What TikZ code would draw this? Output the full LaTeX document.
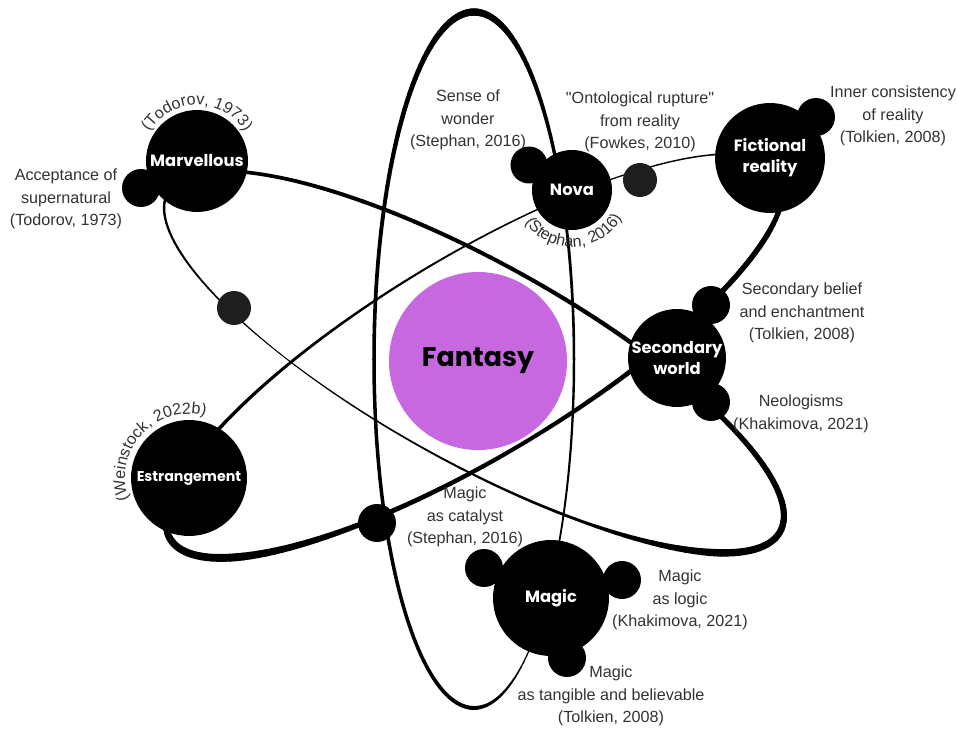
\documentclass[tikz,border=0pt]{standalone}
\usepackage{fontspec}
\setmainfont{Liberation Sans}
\newfontfamily\lbl{Poppins}
\usetikzlibrary{decorations.text}
\definecolor{ink}{HTML}{333333}
\definecolor{fantasy}{HTML}{C868E0}
\definecolor{dim}{HTML}{1E1E1E}

% straight double quote, set as a glyph so the TeX mapping leaves it alone
\newcommand\dq{\XeTeXglyph\XeTeXcharglyph"22\relax}

% Tapered elliptical orbit: centre (#1,#2), semi-axes #3,#4, rotation #5,
% stroke widths (px) at every 30 degrees of the parameter given in #6.
\newcommand\orbitpath[6]{%
  \foreach \t in {0,2,...,358}{%
    \pgfmathtruncatemacro\k{\t/30}%
    \pgfmathtruncatemacro\kk{\k+1}%
    \pgfmathsetmacro\wa{{#6}[\k]}%
    \pgfmathsetmacro\wb{{#6}[\kk]}%
    \pgfmathsetmacro\w{(\wa+(\wb-\wa)*(\t+1-30*\k)/30)*0.569}%
    \pgfmathsetmacro\xa{#1+#3*cos(\t)*cos(#5)-#4*sin(\t)*sin(#5)}%
    \pgfmathsetmacro\ya{#2+#3*cos(\t)*sin(#5)+#4*sin(\t)*cos(#5)}%
    \pgfmathsetmacro\xb{#1+#3*cos(\t+2)*cos(#5)-#4*sin(\t+2)*sin(#5)}%
    \pgfmathsetmacro\yb{#2+#3*cos(\t+2)*sin(#5)+#4*sin(\t+2)*cos(#5)}%
    \draw[line width=\w pt, line cap=round] (\xa,\ya) -- (\xb,\yb);
  }%
}

\begin{document}
\begin{tikzpicture}[x=0.02cm, y=-0.02cm,
  planet/.style={circle, fill=black, inner sep=0pt, minimum size=#1*0.04cm,
    text=white, align=center, font=\fontsize{9.3}{12}\selectfont\lbl\bfseries},
  moon/.style={circle, fill=black, inner sep=0pt, minimum size=#1*0.04cm},
  note/.style={text=ink, align=center, inner sep=0pt,
    font=\fontsize{9.2}{12.8}\selectfont},
  arclabel/.style={decorate, decoration={text along path, text align=center,
    text color=ink, text={|\fontsize{9.2}{11}\selectfont|#1}}},
]
\useasboundingbox (0,0) rectangle (958,729);
\fill[white] (0,0) rectangle (958,729);

% orbits
\orbitpath{474}{360}{100}{348}{0}{2.5,1.8,1.2,4,3.5,3.5,3.5,4,5,7.5,4.5,3,2.5}
\orbitpath{474}{362}{350}{100}{29}{6.5,7.5,3,1.8,1.0,2,2.5,3.5,4,4,4.5,5.5,6.5}
\orbitpath{474.4}{356}{355}{100}{-31}{4,5.5,5,4,5,8,7,4,3,2,1.2,1.5,4}

% small satellites
\node[moon=19] (accept) at (141,188) {};
\node[moon=18.5] (wonder) at (529,165) {};
\node[moon=19] (inner) at (816,117) {};
\node[moon=19] (belief) at (711,305) {};
\node[moon=19] (neolog) at (711,402) {};
\node[moon=19] (mcatal) at (484,568) {};
\node[moon=19] (mlogic) at (622,580) {};
\node[moon=19] (mtang) at (567,658) {};
\node[moon=19] (cross) at (377,523) {};
\node[moon=17, fill=dim] (rupture) at (640,180) {};
\node[moon=17, fill=dim] (marvdot) at (234,308) {};

% main bodies
\node[planet=51] (marv) at (197,161) {Marvellous};
\node[planet=40] (nova) at (572,190) {Nova};
\node[planet=55] (fict) at (770,158) {Fictional\\reality};
\node[planet=49] (sec) at (677,358) {Secondary\\world};
\node[planet=58, font=\fontsize{8.1}{12}\selectfont\lbl\bfseries] (estr) at (189,478) {Estrangement};
\node[planet=58] (magic) at (551,598) {Magic};
\node[circle, fill=fantasy, inner sep=0pt, minimum size=178*0.02cm,
  font=\fontsize{15.3}{16}\selectfont\lbl\bfseries] (fantasy) at (478,361) {Fantasy};

% annotations
\node[note] (t-accept) at (66,199) {Acceptance of\\supernatural\\(Todorov, 1973)};
\node[note] (t-wonder) at (468,120) {Sense of\\wonder\\(Stephan, 2016)};
\node[note] (t-rupture) at (640,122) {\dq Ontological rupture\dq\\from reality\\(Fowkes, 2010)};
\node[note] (t-inner) at (893,116) {Inner consistency\\of reality\\(Tolkien, 2008)};
\node[note] (t-belief) at (802,313) {Secondary belief\\and enchantment\\(Tolkien, 2008)};
\node[note] (t-neolog) at (801,414) {Neologisms\\(Khakimova, 2021)};
\node[note] (t-catal) at (465,517) {Magic\\as catalyst\\(Stephan, 2016)};
\node[note] (t-logic) at (680,600) {Magic\\as logic\\(Khakimova, 2021)};
\node[note] (t-tang) at (611,696) {Magic\\as tangible and believable\\(Tolkien, 2008)};

% curved citations
\path[arclabel={(Todorov, 1973)}] ([shift={(-160:56)}]marv.center) arc (-160:-20:56);
\path[arclabel={(Stephan, 2016)}] ([shift={(-200:57)}]nova.center) arc (-200:-345:57);
\path[arclabel={(Weinstock, 2022b)}] ([shift={(-215:64)}]estr.center) arc (-215:-60:64);
\end{tikzpicture}
\end{document}
